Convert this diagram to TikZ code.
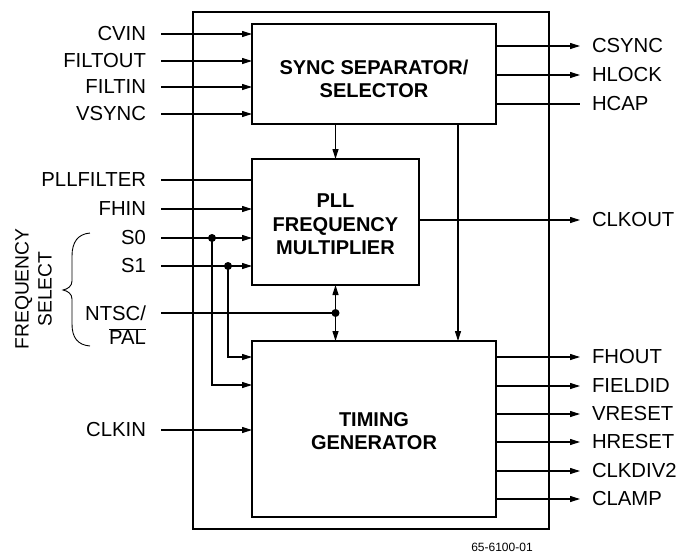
\documentclass[tikz,border=0pt]{standalone}
\usepackage{fontspec}
\setmainfont{Liberation Sans}
\usetikzlibrary{arrows.meta}

\begin{document}
\begin{tikzpicture}[x=1pt, y=-1pt,
  font=\fontsize{20.3}{23}\selectfont,
  blk/.style={draw, line width=2.6pt, inner sep=0pt, outer sep=0pt},
  ttl/.style={font=\fontsize{20}{23.5}\selectfont\bfseries, align=center, inner sep=0pt},
  inl/.style={anchor=east, inner xsep=15pt, inner ysep=0pt, outer sep=0pt},
  outl/.style={anchor=west, inner xsep=12pt, inner ysep=0pt, outer sep=0pt},
  sig/.style={line width=1.1pt},
  ar/.style={sig, -{Triangle[length=10pt, width=6pt]}},
  dot/.style={circle, fill, inner sep=0pt, minimum size=8pt}]
\useasboundingbox (0,0) rectangle (678,555);
\node[blk, minimum width=356pt, minimum height=517pt] (chip) at (371,270.5) {};
\node[blk, minimum width=244pt, minimum height=100pt] (sync) at (374,74) {};
\node[blk, minimum width=167pt, minimum height=126pt] (pll) at (335.5,222) {};
\node[blk, minimum width=244pt, minimum height=176pt] (timing) at (374,429) {};
\node[ttl] (synctxt) at ([yshift=-5pt]sync.center) {SYNC SEPARATOR/\\SELECTOR};
\node[ttl] (plltxt) at ([yshift=-2.5pt]pll.center) {PLL\\FREQUENCY\\MULTIPLIER};
\node[ttl] (timtxt) at ([yshift=-2pt]timing.center) {TIMING\\GENERATOR};
% inputs
\node[inl] (cvin) at (161,34) {CVIN};
\node[inl] (filtout) at (161,61) {FILTOUT};
\node[inl] (filtin) at (161,87) {FILTIN};
\node[inl] (vsync) at (161,114) {VSYNC};
\node[inl] (pllfilter) at (161,180) {PLLFILTER};
\node[inl] (fhin) at (161,209) {FHIN};
\node[inl] (s0) at (161,238) {S0};
\node[inl] (s1) at (161,266) {S1};
\node[inl] (ntsc) at (161,313) {NTSC/};
\node[inl] (pal) at (161,337) {$\overline{\mbox{PAL}}$};
\node[inl] (clkin) at (161,430) {CLKIN};
% outputs
\node[outl] (csync) at (580,46) {CSYNC};
\node[outl] (hlock) at (580,75) {HLOCK};
\node[outl] (hcap) at (580,104) {HCAP};
\node[outl] (clkout) at (580,220) {CLKOUT};
\node[outl] (fhout) at (580,357) {FHOUT};
\node[outl] (fieldid) at (580,386) {FIELDID};
\node[outl] (vreset) at (580,414) {VRESET};
\node[outl] (hreset) at (580,442) {HRESET};
\node[outl] (clkdiv) at (580,471) {CLKDIV2};
\node[outl] (clamp) at (580,499) {CLAMP};
\node[rotate=90, align=center, font=\fontsize{19.3}{23}\selectfont] (fsel) at (33.5,289) {FREQUENCY\\SELECT};
\node[font=\fontsize{12}{14}\selectfont] (fig) at (502,547) {65-6100-01};
% input wires
\draw[ar] (cvin.east) -- (cvin.east -| sync.west);
\draw[ar] (filtout.east) -- (filtout.east -| sync.west);
\draw[ar] (filtin.east) -- (filtin.east -| sync.west);
\draw[ar] (vsync.east) -- (vsync.east -| sync.west);
\draw[sig] (pllfilter.east) -- (pllfilter.east -| pll.west);
\draw[ar] (fhin.east) -- (fhin.east -| pll.west);
\draw[ar] (s0.east) -- (s0.east -| pll.west);
\draw[ar] (s1.east) -- (s1.east -| pll.west);
\node[dot] (j0) at ([xshift=51pt]s0.east) {};
\node[dot] (j1) at ([xshift=67pt]s1.east) {};
\draw[ar] (j0.center) |- ([yshift=44pt]timing.west);
\draw[ar] (j1.center) |- ([yshift=72pt]timing.west);
\node[dot] (j2) at (ntsc.east -| pll.south) {};
\draw[sig] (ntsc.east) -- (j2.center);
\draw[sig, {Triangle[length=10pt, width=6pt]}-{Triangle[length=10pt, width=6pt]}] (pll.south) -- (pll.south |- timing.north);
\draw[ar] (clkin.east) -- (clkin.east -| timing.west);
% internal
\draw[ar] (sync.south -| pll.north) -- (pll.north);
\draw[ar] ([xshift=84pt]sync.south) -- ([xshift=84pt]sync.south |- timing.north);
% output wires
\draw[ar] (csync.west -| sync.east) -- (csync.west);
\draw[ar] (hlock.west -| sync.east) -- (hlock.west);
\draw[sig] (hcap.west -| sync.east) -- (hcap.west);
\draw[ar] (clkout.west -| pll.east) -- (clkout.west);
\draw[ar] (fhout.west -| timing.east) -- (fhout.west);
\draw[ar] (fieldid.west -| timing.east) -- (fieldid.west);
\draw[ar] (vreset.west -| timing.east) -- (vreset.west);
\draw[ar] (hreset.west -| timing.east) -- (hreset.west);
\draw[ar] (clkdiv.west -| timing.east) -- (clkdiv.west);
\draw[ar] (clamp.west -| timing.east) -- (clamp.west);
% brace
\draw[line width=0.9pt] (90,233) .. controls (78,234) and (72,242) .. (72,256) -- (72,281)
  .. controls (72,286) and (68,289) .. (63,290) .. controls (68,291) and (72,294) .. (72,299)
  -- (72,324) .. controls (72,338) and (78,345) .. (90,346);
\end{tikzpicture}
\end{document}
